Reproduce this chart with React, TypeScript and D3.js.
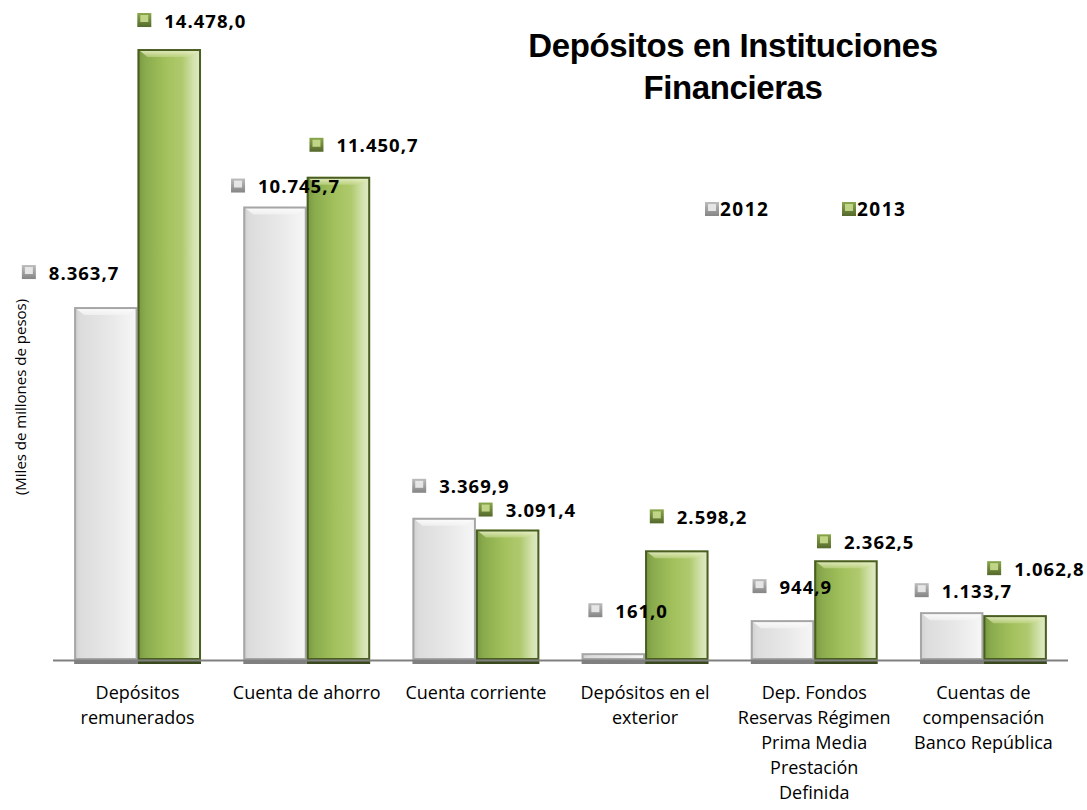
import React from "react";
import * as d3 from "d3";

const categories: string[][] = [
  ["Depósitos", "remunerados"],
  ["Cuenta de ahorro"],
  ["Cuenta corriente"],
  ["Depósitos en el", "exterior"],
  ["Dep. Fondos", "Reservas Régimen", "Prima Media", "Prestación", "Definida"],
  ["Cuentas de", "compensación", "Banco República"],
];
const categoryKeys = ["c1", "c2", "c3", "c4", "c5", "c6"];
const series2012 = [8363.7, 10745.7, 3369.9, 161.0, 944.9, 1133.7];
const series2013 = [14478.0, 11450.7, 3091.4, 2598.2, 2362.5, 1062.8];
const seriesNames = ["2012", "2013"];
const yMax = 15000;

// label placement (manually positioned in the original): [dx of icon from bar centre, dy of text centre from bar top]
const labelOffsets2012: [number, number][] = [[-84, -35], [-44, -21], [-32, -32], [-25, -43], [-30, -34], [-37, -22]];
const labelOffsets2013: [number, number][] = [[-32, -29], [-29, -32], [-29, -20], [-27, -34], [-29, -19], [-28, -47]];

const W = 1087, H = 810;
const fmt = (v: number) => {
  const s = v.toFixed(1);
  const [i, d] = s.split(".");
  return i.replace(/\B(?=(\d{3})+(?!\d))/g, ".") + "," + d;
};

export default function App() {
  const baseY = 660;
  const y = d3.scaleLinear().domain([0, yMax]).range([baseY, 27]);
  const x0 = d3.scaleBand<string>().domain(categoryKeys).range([53, 1068]).paddingInner(0.25).paddingOuter(0.125);
  const x1 = d3.scaleBand<string>().domain(seriesNames).range([0, x0.bandwidth()]);
  const bw = x1.bandwidth();

  const Icon = ({ x, yc, green }: { x: number; yc: number; green: boolean }) => (
    <g>
      <rect x={x} y={yc - 7} width={14} height={14} fill={green ? "url(#gIcon)" : "url(#wIcon)"} />
      <rect x={x + 3} y={yc - 5} width={8} height={7} fill={green ? "#c9dc8f" : "#ececec"} opacity={0.9} />
    </g>
  );

  const bar = (v: number, ci: number, si: number) => {
    const green = si === 1;
    const bx = (x0(categoryKeys[ci]) as number) + (x1(seriesNames[si]) as number);
    const top = y(v);
    const h = baseY - top;
    const bevel = Math.min(8, h / 3);
    const inset = Math.min(10, bw / 5);
    return (
      <g key={`b${ci}-${si}`}>
        <rect x={bx} y={baseY} width={bw} height={4} fill={green ? "#3b4a1e" : "#7f7f7f"} />
        <rect x={bx} y={top} width={bw} height={h} fill={green ? "url(#gBar)" : "url(#wBar)"} />
        <polygon
          points={`${bx},${top} ${bx + bw},${top} ${bx + bw - inset},${top + bevel} ${bx + inset},${top + bevel}`}
          fill={green ? "url(#gBevel)" : "url(#wBevel)"}
        />
        <rect x={bx + 1} y={top + 1} width={bw - 2} height={Math.max(0, h - 2)} fill="none"
          stroke={green ? "#4a5e23" : "#a6a6a6"} strokeWidth={2} />
      </g>
    );
  };

  const label = (v: number, ci: number, si: number) => {
    const bx = (x0(categoryKeys[ci]) as number) + (x1(seriesNames[si]) as number) + bw / 2;
    const off = si === 0 ? labelOffsets2012[ci] : labelOffsets2013[ci];
    const ix = bx + off[0];
    const yc = y(v) + off[1];
    return (
      <g key={`l${ci}-${si}`}>
        <Icon x={ix} yc={yc} green={si === 1} />
        <text x={ix + 27} y={yc} dominantBaseline="central" fontFamily="'Open Sans', sans-serif"
          fontWeight="bold" fontSize={18.5} letterSpacing={1} fill="#000">
          {fmt(v)}
        </text>
      </g>
    );
  };

  return (
    <div style={{ position: "absolute", left: 0, top: 0 }}>
      <svg width={W} height={H} style={{ display: "block", background: "#fff" }}>
        <defs>
          <linearGradient id="gBar" x1="0" x2="1" y1="0" y2="0">
            <stop offset="0" stopColor="#789640" />
            <stop offset="0.12" stopColor="#8aab4d" />
            <stop offset="0.45" stopColor="#a3c25d" />
            <stop offset="0.7" stopColor="#afc96e" />
            <stop offset="0.88" stopColor="#d3e2ad" />
            <stop offset="1" stopColor="#e2ebc8" />
          </linearGradient>
          <linearGradient id="wBar" x1="0" x2="1" y1="0" y2="0">
            <stop offset="0" stopColor="#cfcfcf" />
            <stop offset="0.1" stopColor="#dcdcdc" />
            <stop offset="0.6" stopColor="#e9e9e9" />
            <stop offset="1" stopColor="#f7f7f7" />
          </linearGradient>
          <linearGradient id="gBevel" x1="0" x2="0" y1="0" y2="1">
            <stop offset="0" stopColor="#f4f8dc" stopOpacity={0.95} />
            <stop offset="1" stopColor="#c7d98f" stopOpacity={0.6} />
          </linearGradient>
          <linearGradient id="wBevel" x1="0" x2="0" y1="0" y2="1">
            <stop offset="0" stopColor="#ffffff" stopOpacity={1} />
            <stop offset="1" stopColor="#f4f4f4" stopOpacity={0.7} />
          </linearGradient>
          <linearGradient id="gIcon" x1="0" x2="0" y1="0" y2="1">
            <stop offset="0" stopColor="#8aa84c" />
            <stop offset="1" stopColor="#55692c" />
          </linearGradient>
          <linearGradient id="wIcon" x1="0" x2="0" y1="0" y2="1">
            <stop offset="0" stopColor="#bdbdbd" />
            <stop offset="1" stopColor="#858585" />
          </linearGradient>
        </defs>

        {/* title */}
        <text x={733} y={57} textAnchor="middle" fontFamily="'Liberation Sans', Arial, sans-serif" fontWeight="bold"
          fontSize={33} letterSpacing={-0.4} fill="#000">
          Depósitos en Instituciones
        </text>
        <text x={733} y={99} textAnchor="middle" fontFamily="'Liberation Sans', Arial, sans-serif" fontWeight="bold"
          fontSize={33} letterSpacing={-0.4} fill="#000">
          Financieras
        </text>

        {/* y axis title */}
        <text transform={`translate(20,${397}) rotate(-90)`} textAnchor="middle" dominantBaseline="central"
          fontFamily="'Open Sans', sans-serif" fontSize={15} fill="#000">
          (Miles de millones de pesos)
        </text>

        {/* bars */}
        {series2012.map((v, i) => bar(v, i, 0))}
        {series2013.map((v, i) => bar(v, i, 1))}

        {/* axis line */}
        <line x1={53} x2={1068} y1={baseY + 0.5} y2={baseY + 0.5} stroke="#808080" strokeWidth={2} />

        {/* category labels */}
        {categories.map((lines, i) => {
          const cx = (x0(categoryKeys[i]) as number) + x0.bandwidth() / 2;
          return (
            <text key={`c${i}`} x={cx} textAnchor="middle" fontFamily="'Open Sans', sans-serif" fontSize={18} fill="#000">
              {lines.map((ln, j) => (
                <tspan key={j} x={cx} y={699 + j * 25}>{ln}</tspan>
              ))}
            </text>
          );
        })}

        {/* data labels */}
        {series2012.map((v, i) => label(v, i, 0))}
        {series2013.map((v, i) => label(v, i, 1))}

        {/* legend */}
        <Icon x={705} yc={209} green={false} />
        <text x={720} y={209} dominantBaseline="central" fontFamily="'Open Sans', sans-serif" fontWeight="bold"
          fontSize={19} letterSpacing={1.5} fill="#000">{seriesNames[0]}</text>
        <Icon x={842} yc={209} green={true} />
        <text x={857} y={209} dominantBaseline="central" fontFamily="'Open Sans', sans-serif" fontWeight="bold"
          fontSize={19} letterSpacing={1.5} fill="#000">{seriesNames[1]}</text>
      </svg>
    </div>
  );
}
